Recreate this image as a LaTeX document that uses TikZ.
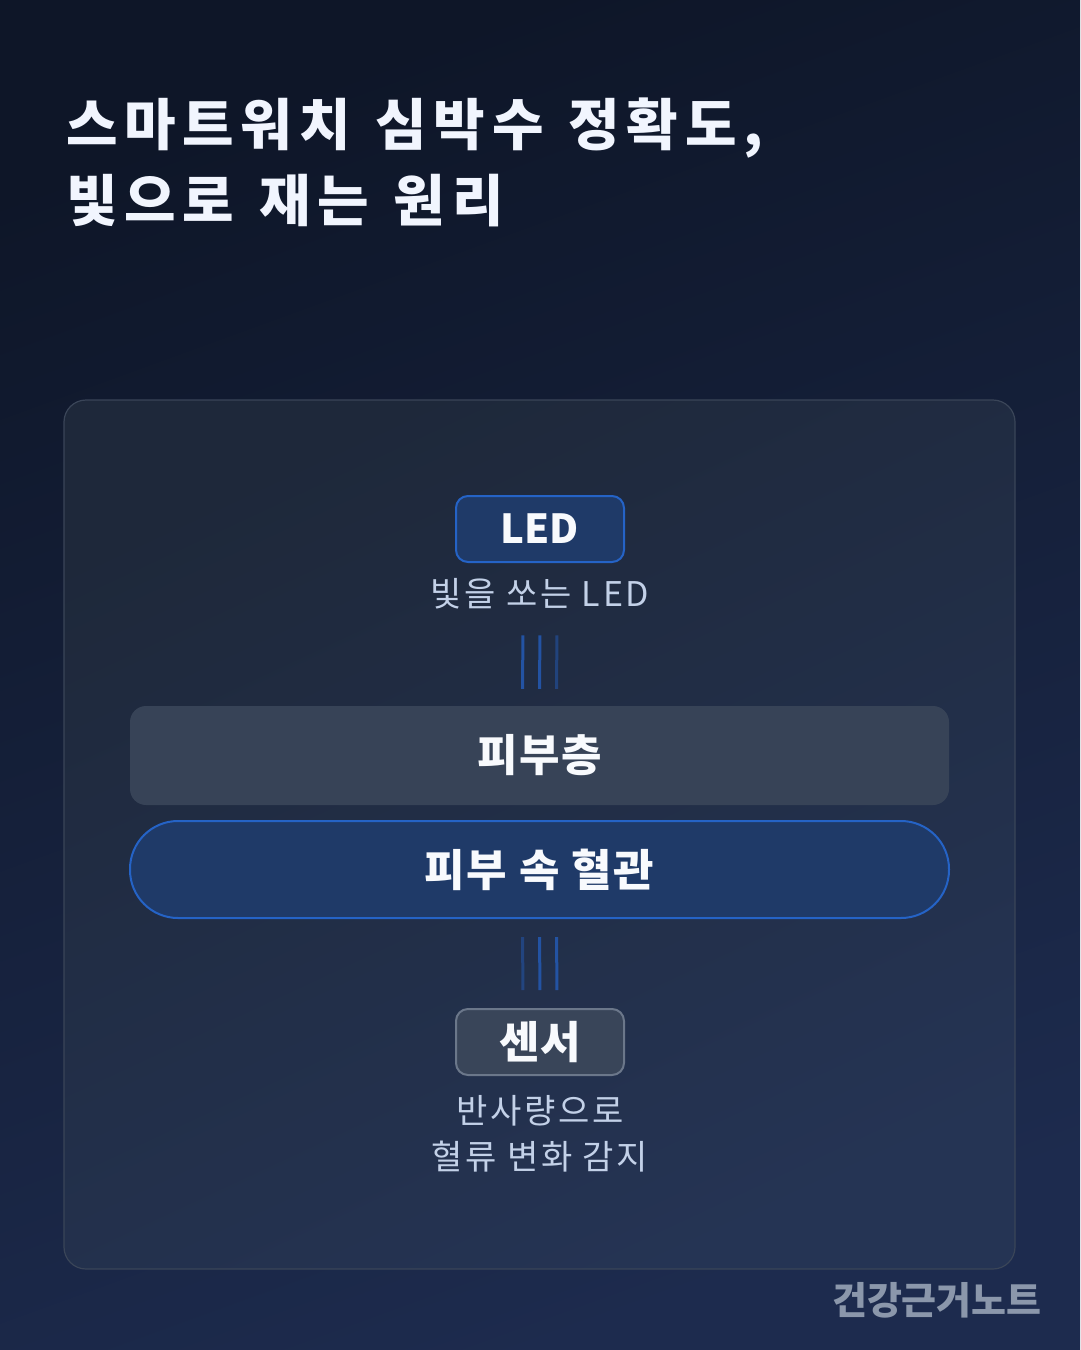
\documentclass[tikz,border=0pt]{standalone}
\usepackage{fontspec}
\setmainfont{Noto Sans CJK KR}
\usetikzlibrary{positioning}
\definecolor{bgA}{HTML}{0E1628}
\definecolor{bgB}{HTML}{1D2B4E}
\definecolor{panelA}{HTML}{1E283A}
\definecolor{panelB}{HTML}{253454}
\definecolor{panelEdge}{HTML}{3A4558}
\definecolor{titleC}{HTML}{F1F5FE}
\definecolor{subC}{HTML}{C3D1E8}
\definecolor{boxText}{HTML}{F8FAFD}
\definecolor{blueFill}{HTML}{1F3A68}
\definecolor{blueEdge}{HTML}{2563C6}
\definecolor{greyFill}{HTML}{394559}
\definecolor{greyEdge}{HTML}{6B778A}
\definecolor{skinFill}{HTML}{374357}
\definecolor{beamC}{HTML}{2353A3}
\definecolor{footC}{HTML}{8B97AB}
\newcommand\headfont{\fontsize{56}{76}\selectfont\bfseries\addfontfeatures{LetterSpace=12}\spaceskip=25pt\relax}

\begin{document}
\begin{tikzpicture}[x=1pt,y=-1pt,
  small box/.style={draw,line width=2pt,rounded corners=12pt,minimum width=168pt,minimum height=66pt,
    inner sep=0pt,text=boxText,font=\fontsize{44}{50}\selectfont\bfseries},
  wide box/.style={minimum width=819pt,inner sep=0pt,text=boxText,
    font=\fontsize{44}{50}\selectfont\bfseries\addfontfeatures{LetterSpace=4}}]
  \tikzset{SubStyle/.style = {inner sep=0pt,text=subC,align=center,
    font=\fontsize{34}{46}\selectfont\addfontfeatures{LetterSpace=8}}}
  \tikzset{beam/.style = {line width=3pt,draw=beamC}}
  \useasboundingbox (0,0) rectangle (1080,1350);
  \shade[shading=axis,top color=bgA,bottom color=bgB,shading angle=20] (0,0) rectangle (1080,1350);
  \shade[shading=axis,top color=panelA,bottom color=panelB,shading angle=25,rounded corners=22pt] (64,400) rectangle (1015,1269);
  \draw[panelEdge,line width=1.2pt,rounded corners=22pt] (64,400) rectangle (1015,1269);

  \node[anchor=base west,inner sep=0pt,align=left,text=titleC,font=\headfont] (title) at (66,221)
    {스마트워치 심박수 정확도,\\빛으로 재는 원리};

  \node[small box,fill=blueFill,draw=blueEdge,font=\fontsize{40}{48}\selectfont\bfseries] (led) at (540,529) {LED};
  \node[SubStyle,text height=23pt,text depth=6pt] (ledsub) [below=20pt of led] {빛을 쏘는 LED};
  \node[wide box,fill=skinFill,minimum height=99pt,rounded corners=16pt] (skin) at (539.5,755.5) {피부층};
  \node[wide box,fill=blueFill,draw=blueEdge,line width=2pt,minimum height=97pt,rounded corners=48pt] (vessel) at (539.5,869.5) {피부 속 혈관};
  \node[small box,fill=greyFill,draw=greyEdge] (sensor) at (540,1042) {센서};
  \node[SubStyle,anchor=north] (sensorsub) [below=19pt of sensor] {반사량으로\\혈류 변화 감지};

  \node[anchor=east,inner sep=0pt,text=footC,font=\fontsize{38}{42}\selectfont\bfseries] (foot) at (1042,1300) {건강근거노트};

  % light going in, light coming back
  \path[beam,shorten <=23pt,shorten >=17pt]
    ([xshift=-17pt]ledsub.south) edge ([xshift=-17pt]skin.north)
    (ledsub.south) edge ([xshift=0pt]skin.north)
    ([xshift=17pt]ledsub.south) edge[draw opacity=0.6] ([xshift=17pt]skin.north);
  \path[beam,shorten <=18pt,shorten >=18pt]
    ([xshift=-17pt]vessel.south) edge[draw opacity=0.6] ([xshift=-17pt]sensor.north)
    (vessel.south) edge (sensor.north)
    ([xshift=17pt]vessel.south) edge ([xshift=17pt]sensor.north);
\end{tikzpicture}
\end{document}
